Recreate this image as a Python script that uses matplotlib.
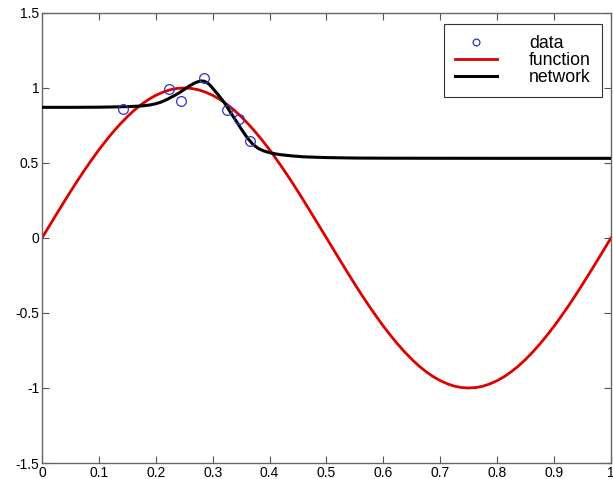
import matplotlib
matplotlib.use("Agg")
import matplotlib.pyplot as plt

plt.rcParams['font.family'] = ['Liberation Sans', 'DejaVu Sans']

# data points (circles)
data_x = [0.142, 0.223, 0.244, 0.285, 0.325, 0.346, 0.366]
data_y = [0.86, 0.993, 0.915, 1.065, 0.853, 0.791, 0.644]

# target function
func_x = [0.0000, 0.0125, 0.0250, 0.0375, 0.0500, 0.0625, 0.0750, 0.0875, 0.1000, 0.1125,
          0.1250, 0.1375, 0.1500, 0.1625, 0.1750, 0.1875, 0.2000, 0.2125, 0.2250, 0.2375,
          0.2500, 0.2625, 0.2750, 0.2875, 0.3000, 0.3125, 0.3250, 0.3375, 0.3500, 0.3625,
          0.3750, 0.3875, 0.4000, 0.4125, 0.4250, 0.4375, 0.4500, 0.4625, 0.4750, 0.4875,
          0.5000, 0.5125, 0.5250, 0.5375, 0.5500, 0.5625, 0.5750, 0.5875, 0.6000, 0.6125,
          0.6250, 0.6375, 0.6500, 0.6625, 0.6750, 0.6875, 0.7000, 0.7125, 0.7250, 0.7375,
          0.7500, 0.7625, 0.7750, 0.7875, 0.8000, 0.8125, 0.8250, 0.8375, 0.8500, 0.8625,
          0.8750, 0.8875, 0.9000, 0.9125, 0.9250, 0.9375, 0.9500, 0.9625, 0.9750, 0.9875, 1.0000]
func_y = [0.000, 0.078, 0.156, 0.233, 0.309, 0.383, 0.454, 0.522, 0.588, 0.649,
          0.707, 0.760, 0.809, 0.853, 0.891, 0.924, 0.951, 0.972, 0.988, 0.997,
          1.000, 0.997, 0.988, 0.972, 0.951, 0.924, 0.891, 0.853, 0.809, 0.760,
          0.707, 0.649, 0.588, 0.522, 0.454, 0.383, 0.309, 0.233, 0.156, 0.078,
          0.000, -0.078, -0.156, -0.233, -0.309, -0.383, -0.454, -0.522, -0.588, -0.649,
          -0.707, -0.760, -0.809, -0.853, -0.891, -0.924, -0.951, -0.972, -0.988, -0.997,
          -1.000, -0.997, -0.988, -0.972, -0.951, -0.924, -0.891, -0.853, -0.809, -0.760,
          -0.707, -0.649, -0.588, -0.522, -0.454, -0.383, -0.309, -0.233, -0.156, -0.078, 0.000]

# network output
net_x = [0.00, 0.05, 0.10, 0.13, 0.15, 0.17, 0.18, 0.19, 0.20, 0.21, 0.22, 0.23, 0.24,
         0.25, 0.26, 0.27, 0.275, 0.28, 0.285, 0.29, 0.295, 0.30, 0.31, 0.32, 0.33,
         0.34, 0.35, 0.36, 0.37, 0.38, 0.39, 0.40, 0.41, 0.42, 0.44, 0.46, 0.50,
         0.55, 0.60, 0.80, 1.00]
net_y = [0.871, 0.871, 0.872, 0.874, 0.876, 0.879, 0.882, 0.887, 0.895, 0.907, 0.924, 0.944, 0.965,
         0.990, 1.016, 1.036, 1.043, 1.047, 1.045, 1.036, 1.020, 0.998, 0.953, 0.905, 0.845,
         0.787, 0.728, 0.672, 0.627, 0.597, 0.580, 0.569, 0.561, 0.555, 0.547, 0.541, 0.536,
         0.533, 0.532, 0.531, 0.531]

xticks = [0, 0.1, 0.2, 0.3, 0.4, 0.5, 0.6, 0.7, 0.8, 0.9, 1]
xticklabels = ['0', '0.1', '0.2', '0.3', '0.4', '0.5', '0.6', '0.7', '0.8', '0.9', '1']
yticks = [-1.5, -1, -0.5, 0, 0.5, 1, 1.5]
yticklabels = ['-1.5', '-1', '-0.5', '0', '0.5', '1', '1.5']

fig = plt.figure(figsize=(6.13, 4.79), dpi=100)
ax = fig.add_axes([0.0685, 0.0334, 0.9282, 0.9395])

ax.plot(data_x, data_y, 'o', mfc='none', mec='#3333bb', ms=7, mew=0.9, label='data', zorder=4)
ax.plot(func_x, func_y, color='#dd0000', lw=2.0, label='function', zorder=2)
ax.plot(net_x, net_y, color='black', lw=2.2, label='network', zorder=3)

ax.set_xlim(0, 1)
ax.set_ylim(-1.5, 1.5)
ax.set_xticks(xticks)
ax.set_xticklabels(xticklabels)
ax.set_yticks(yticks)
ax.set_yticklabels(yticklabels)
ax.tick_params(direction='in', length=5, width=0.8, colors='#555555', labelcolor='black',
               labelsize=10, top=True, right=True, pad=2)
for s in ax.spines.values():
    s.set_color('#666666')
    s.set_linewidth(1.0)

leg = ax.legend(loc='upper right', bbox_to_anchor=(0.9837, 0.9756), fontsize=12.7,
                frameon=True, fancybox=False, edgecolor='#333333', framealpha=1,
                handlelength=2.4, handletextpad=1.8, labelspacing=0.0,
                borderpad=0.62, borderaxespad=0.0, markerscale=0.7)
leg.get_frame().set_linewidth(0.8)

fig.savefig('out.png', dpi=100)
